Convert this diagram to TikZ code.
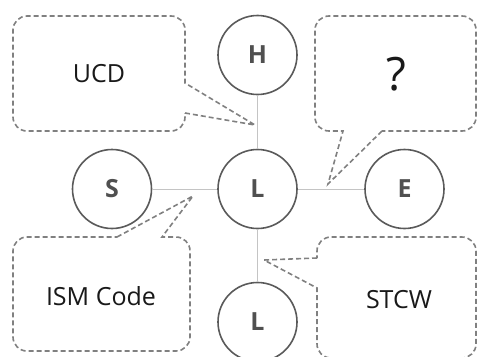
\documentclass[tikz,border=0pt]{standalone}
\usepackage{fontspec}
\setmainfont{Open Sans}
\usepackage{xcolor}
\usepackage{tikz}
\usetikzlibrary{positioning}
\definecolor{ringgray}{HTML}{5A5A5A}
\definecolor{lettergray}{HTML}{505050}
\definecolor{linkgray}{HTML}{C4C4C4}
\definecolor{dashgray}{HTML}{808080}
\begin{document}
\begin{tikzpicture}[x=1pt,y=-1pt,
letter/.style={circle,draw=ringgray,line width=1.6pt,minimum size=79pt,inner sep=0pt,text=lettergray,font=\fontsize{25}{30}\selectfont\bfseries},
link/.style={draw=linkgray,line width=1pt},
bubble/.style={draw=dashgray,dash pattern=on 5pt off 3pt,line width=1.6pt},
note/.style={font=\fontsize{25}{30}\selectfont,text=black!90}]
\useasboundingbox (0,0) rectangle (478,356);

\node[letter] (L) at (257.5,189) {L};
\node[letter] (H) at (257.5,55) {H};
\node[letter] (S) at (112,189) {S};
\node[letter] (E) at (404.5,189) {E};
\node[letter] (L2) at (257.5,322) {L};
\draw[link] (H) -- (L); \draw[link] (S) -- (L); \draw[link] (L) -- (E); \draw[link] (L) -- (L2);

\node[note] (ucd) at (99,74) {UCD};
\node[note,font=\fontsize{46}{50}\selectfont] (qm) at (396,74) {?};
\node[note] (ism) at (101,296) {ISM Code};
\node[note] (stcw) at (399,300) {STCW};
\coordinate (ucdtip) at (255,125); \coordinate (qmtip) at (328,184); \coordinate (ismtip) at (193,196); \coordinate (stcwtip) at (264,260);

\draw[bubble] (185,113) -- (ucdtip) -- (185,83) -- (185,60) [rounded corners=14pt] -- (185,16) -- (13,16) -- (13,131) -- (185,131) -- (185,113);
\draw[bubble] (382,131) -- (qmtip) -- (343,131) -- (330,131) [rounded corners=14pt] -- (315,131) -- (315,16) -- (476,16) -- (476,131) -- (382,131);
\draw[bubble] (117,237) -- (ismtip) -- (162,237) -- (170,237) [rounded corners=14pt] -- (190,237) -- (190,351) -- (13,351) -- (13,237) -- (117,237);
\draw[bubble] (317,258) -- (stcwtip) -- (317,288) -- (317,300) [rounded corners=14pt] -- (317,358) -- (476,358) -- (476,237) -- (317,237) -- (317,258);
\end{tikzpicture}
\end{document}
